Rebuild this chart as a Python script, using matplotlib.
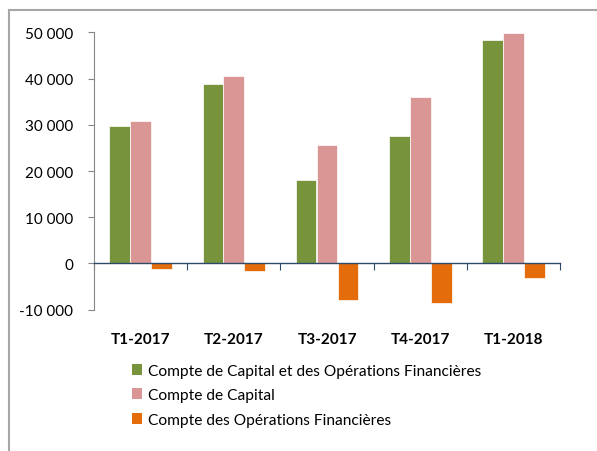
import matplotlib.pyplot as plt
from matplotlib.lines import Line2D
from matplotlib.patches import Patch
import numpy as np

plt.rcParams['font.family'] = ['Lato', 'DejaVu Sans']

# Data
categories = ['T1-2017', 'T2-2017', 'T3-2017', 'T4-2017', 'T1-2018']
capital_ops = [29700, 38800, 18000, 27600, 48300]
capital = [30800, 40650, 25700, 35900, 49800]
ops_fin = [-1300, -1650, -7900, -8600, -3150]

series_names = ['Compte de Capital et des Opérations Financières',
                'Compte de Capital',
                'Compte des Opérations Financières']
colors = ['#77933C', '#D99694', '#E46C0A']

fig = plt.figure(figsize=(5.97, 4.52), dpi=100)
ax = fig.add_axes([0.1575, 0.3126, 0.7806, 0.6137])

x = np.arange(len(categories))
w = 0.222
for k, (vals, col) in enumerate(zip([capital_ops, capital, ops_fin], colors)):
    ax.bar(x + (k - 1) * 0.225, vals, width=w, color=col,
           edgecolor='white', linewidth=0.5, zorder=2)

ax.set_xlim(-0.5, len(categories) - 0.5)
ax.set_ylim(-10000, 50000)

# y axis
yt = np.arange(-10000, 50001, 10000)
ax.set_yticks(yt)
ax.set_yticklabels([f"{v:,.0f}".replace(",", " ") for v in yt], fontsize=11)
ax.tick_params(axis='y', direction='out', length=4, color='#868686', pad=11)

# x axis at zero, ticks between categories
ax.spines['bottom'].set_position(('data', 0))
ax.spines['bottom'].set_color('#2E4A6B')
ax.spines['bottom'].set_linewidth(1.0)
ax.set_xticks(np.arange(-0.5, len(categories), 1.0))
ax.set_xticklabels([])
ax.tick_params(axis='x', direction='out', length=5, color='#2E4A6B')
ax.spines['left'].set_color('#868686')
ax.spines['top'].set_visible(False)
ax.spines['right'].set_visible(False)

for i, c in enumerate(categories):
    ax.text(i, -0.105, c, transform=ax.get_xaxis_transform(),
            ha='center', va='center', fontsize=11, fontweight='bold')

handles = [Patch(facecolor=c, edgecolor='none') for c in colors]
fig.legend(handles, series_names, loc='upper left',
           bbox_to_anchor=(0.2204, 0.193), frameon=False, fontsize=11.2,
           handlelength=0.7, handleheight=0.7, handletextpad=0.35,
           labelspacing=0.68, borderaxespad=0, borderpad=0)

# outer frame (top and left edges visible in the crop)
fig.add_artist(Line2D([9 / 597, 1], [1 - 11 / 452] * 2, color='#A6A6A6', lw=1.5))
fig.add_artist(Line2D([9 / 597] * 2, [0, 1 - 11 / 452], color='#A6A6A6', lw=1.5))

fig.savefig('out.png', dpi=100)
